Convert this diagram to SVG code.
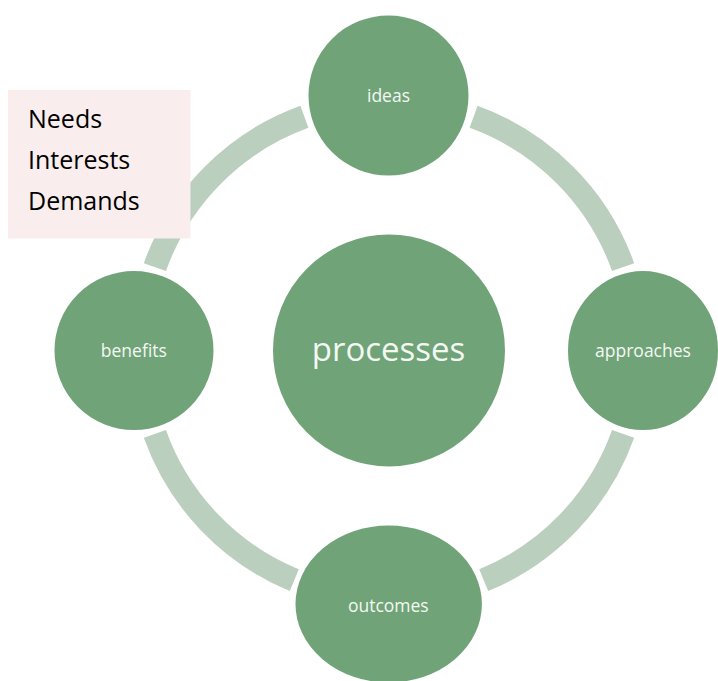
<svg xmlns="http://www.w3.org/2000/svg" width="718" height="681" viewBox="0 0 718 681">
<style>
.ring{fill:none;stroke:#bbcfbe;stroke-width:23.5;stroke-linecap:butt}
.node{fill:#71a378;stroke:#ffffff;stroke-width:3}
.lbl{font-family:"Open Sans","Liberation Sans",sans-serif;font-size:17.5px;fill:#f3f8f3;text-anchor:middle}
.big{font-size:33px}
.note{font-family:"Open Sans","Liberation Sans",sans-serif;font-size:25px;fill:#000000}
</style>
<rect width="718" height="681" fill="#ffffff"/>
<g id="connectors">
<path class="ring" d="M473.6,116.8 A248.5,248.5 0 0 1 623.1,267.1"/>
<path class="ring" d="M623.1,433.9 A248.5,248.5 0 0 1 483.7,580.2"/>
<path class="ring" d="M294.3,580.2 A248.5,248.5 0 0 1 154.9,433.9"/>
<path class="ring" d="M154.9,267.1 A248.5,248.5 0 0 1 304.4,116.8"/>
</g>
<g id="note">
<rect x="8" y="90" width="182.5" height="148.5" fill="#f9eeed"/>
<text class="note" x="28" y="128">Needs</text>
<text class="note" x="28" y="169">Interests</text>
<text class="note" x="28" y="210">Demands</text>
</g>
<g id="processes">
<circle class="node" cx="389" cy="350.5" r="117.5"/>
<text class="lbl big" x="388.5" y="361">processes</text>
</g>
<g id="ideas">
<circle class="node" cx="388.5" cy="95.5" r="81.5"/>
<text class="lbl" x="388.5" y="101.7">ideas</text>
</g>
<g id="approaches">
<ellipse class="node" cx="643" cy="350.5" rx="76.5" ry="81"/>
<text class="lbl" x="643" y="356.7">approaches</text>
</g>
<g id="outcomes">
<ellipse class="node" cx="388.7" cy="604" rx="94.7" ry="80"/>
<text class="lbl" x="388.3" y="611.7">outcomes</text>
</g>
<g id="benefits">
<circle class="node" cx="134" cy="350.5" r="81"/>
<text class="lbl" x="133.8" y="356.7">benefits</text>
</g>
</svg>
